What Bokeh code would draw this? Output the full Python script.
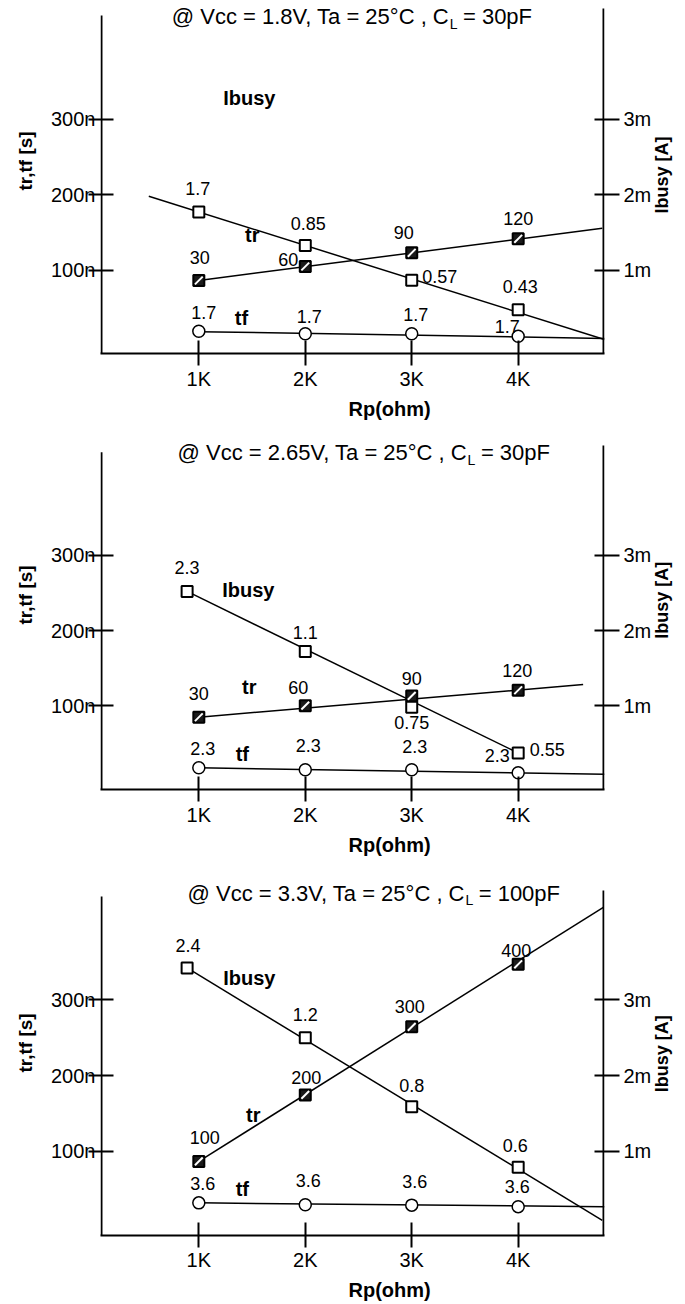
import math
from bokeh.plotting import figure
from bokeh.layouts import column
from bokeh.models import (Range1d, LinearAxis, FixedTicker, ColumnDataSource, LabelSet, Label, Title)
from bokeh.core.properties import value
from bokeh.embed import file_html
from bokeh.resources import INLINE

# ---------------- data ----------------
rp_k = [1, 2, 3, 4]
rp_tick_labels = ["1K", "2K", "3K", "4K"]
t_ticks = [100, 200, 300]
t_tick_labels = ["100n", "200n", "300n"]
i_ticks = [1, 2, 3]
i_tick_labels = ["1m", "2m", "3m"]

title_main = ["@ Vcc = 1.8V, Ta = 25°C , C",
              "@ Vcc = 2.65V, Ta = 25°C , C",
              "@ Vcc = 3.3V, Ta = 25°C , C"]
title_sub = ["L", "L", "L"]
title_rest = ["= 30pF", "= 30pF", "= 100pF"]

# panel 1 : Vcc = 1.8 V, CL = 30 pF
p1_ibusy_x = [1, 2, 3, 4]
p1_ibusy_mA = [1.77, 1.33, 0.87, 0.48]
p1_ibusy_text = ["1.7", "0.85", "0.57", "0.43"]
p1_ibusy_line_x = [0.53, 4.81]
p1_ibusy_line_mA = [1.98, 0.086]
p1_tr_ns = [86.6, 105.1, 123.2, 141.7]
p1_tr_text = ["30", "60", "90", "120"]
p1_tr_line_x = [1, 4.79]
p1_tr_line_ns = [86.6, 155.7]
p1_tf_ns = [19.6, 16.1, 16.1, 12.9]
p1_tf_text = ["1.7", "1.7", "1.7", "1.7"]
p1_tf_line_x = [1, 4.81]
p1_tf_line_ns = [19.0, 10.0]

# panel 2 : Vcc = 2.65 V, CL = 30 pF
p2_ibusy_x = [0.89, 2, 3, 4]
p2_ibusy_mA = [2.52, 1.72, 0.98, 0.37]
p2_ibusy_text = ["2.3", "1.1", "0.75", "0.55"]
p2_ibusy_line_x = [0.89, 4]
p2_ibusy_line_mA = [2.52, 0.37]
p2_tr_ns = [84.6, 100.0, 113.0, 120.5]
p2_tr_text = ["30", "60", "90", "120"]
p2_tr_line_x = [1, 4.61]
p2_tr_line_ns = [84.6, 128.0]
p2_tf_ns = [17.3, 14.6, 14.6, 10.6]
p2_tf_text = ["2.3", "2.3", "2.3", "2.3"]
p2_tf_line_x = [1, 4.81]
p2_tf_line_ns = [17.3, 8.8]

# panel 3 : Vcc = 3.3 V, CL = 100 pF
p3_ibusy_x = [0.89, 2, 3, 4]
p3_ibusy_mA = [3.42, 2.50, 1.59, 0.79]
p3_ibusy_text = ["2.4", "1.2", "0.8", "0.6"]
p3_ibusy_line_x = [0.89, 4.79]
p3_ibusy_line_mA = [3.42, 0.09]
p3_tr_ns = [86.7, 174.5, 264.3, 346.8]
p3_tr_text = ["100", "200", "300", "400"]
p3_tr_line_x = [1, 4.80]
p3_tr_line_ns = [86.7, 422.0]
p3_tf_ns = [32.0, 29.5, 29.0, 27.0]
p3_tf_text = ["3.6", "3.6", "3.6", "3.6"]
p3_tf_line_x = [1, 4.81]
p3_tf_line_ns = [32.0, 27.0]

# ---------------- layout / style ----------------
FONT = "Liberation Sans"
FIG_W = 685
FRAME_L, FRAME_R = 100, 608          # page px
XS = (FRAME_L - 91.8) / 107.3
XE = (FRAME_R - 91.8) / 107.3
PX_K = (FRAME_R - FRAME_L) / (XE - XS)

ARIAL = {' ': 278, '@': 1015, 'V': 667, 'c': 500, '=': 584, '1': 556, '.': 278, '8': 556,
         ',': 278, 'T': 611, 'a': 556, '2': 556, '5': 556, '°': 400, 'C': 722, 'L': 556,
         '3': 556, '0': 556, 'p': 556, 'F': 611, '6': 556}


def tw(s, fs):
    return sum(ARIAL.get(ch, 556) for ch in s) / 1000.0 * fs


def kx(px_page):
    return XS + (px_page - FRAME_L) / PX_K


panels = [
    dict(fig_top=0, frame_top=4, frame_bottom=353, fig_bottom=430, y0=345.5, s=0.7565,
         axis_top_l=15, axis_top_r=8, tick_sd=2, title_cx=352, title_cy=16,
         ylab_off=163, rlab_bottom=175,
         ibusy=(p1_ibusy_x, p1_ibusy_mA, p1_ibusy_text, p1_ibusy_line_x, p1_ibusy_line_mA),
         tr=(rp_k, p1_tr_ns, p1_tr_text, p1_tr_line_x, p1_tr_line_ns),
         tf=(rp_k, p1_tf_ns, p1_tf_text, p1_tf_line_x, p1_tf_line_ns),
         off_i=[(-1, 24), (3, 22), (28, 4), (2, 23)],
         off_r=[(1, 23), (-17, 7), (-8, 20), (0, 20)],
         off_f=[(5, 19), (4, 17), (4, 19), (-11, 10)],
         names=[(250, 97), (253, 234), (242, 317)]),
    dict(fig_top=430, frame_top=441, frame_bottom=789, fig_bottom=868, y0=780.3, s=0.7515,
         axis_top_l=451.7, axis_top_r=445, tick_sd=2, title_cx=364, title_cy=452,
         ylab_off=165, rlab_bottom=189,
         ibusy=(p2_ibusy_x, p2_ibusy_mA, p2_ibusy_text, p2_ibusy_line_x, p2_ibusy_line_mA),
         tr=(rp_k, p2_tr_ns, p2_tr_text, p2_tr_line_x, p2_tr_line_ns),
         tf=(rp_k, p2_tf_ns, p2_tf_text, p2_tf_line_x, p2_tf_line_ns),
         off_i=[(0, 24), (0, 19), (0, -15), (29, 3)],
         off_r=[(0, 24), (-7, 18), (0, 17), (-1, 20)],
         off_f=[(4, 19), (3, 24), (3, 23), (-21, 17)],
         names=[(249, 589), (250, 686), (243, 753)]),
    dict(fig_top=868, frame_top=882, frame_bottom=1236, fig_bottom=1304, y0=1227.6, s=0.76,
         axis_top_l=896, axis_top_r=890, tick_sd=1, title_cx=374, title_cy=893,
         ylab_off=163, rlab_bottom=178,
         ibusy=(p3_ibusy_x, p3_ibusy_mA, p3_ibusy_text, p3_ibusy_line_x, p3_ibusy_line_mA),
         tr=(rp_k, p3_tr_ns, p3_tr_text, p3_tr_line_x, p3_tr_line_ns),
         tf=(rp_k, p3_tf_ns, p3_tf_text, p3_tf_line_x, p3_tf_line_ns),
         off_i=[(1, 22), (0, 23), (0, 21), (-3, 22)],
         off_r=[(6, 24), (1, 17), (-2, 20), (-2, 14)],
         off_f=[(4, 19), (3, 24), (3, 24), (-1, 20)],
         names=[(250, 978), (254, 1115), (243, 1189)]),
]


def value_labels(p, xs, ys, texts, offs, range_name="default"):
    src = ColumnDataSource(dict(x=xs, y=ys, text=texts,
                                dx=[o[0] for o in offs], dy=[o[1] for o in offs]))
    ls = LabelSet(x="x", y="y", text="text", source=src, x_offset="dx", y_offset="dy",
                  text_align="center", text_baseline="middle",
                  text_font=value(FONT), text_font_size=value("18px"), text_color="black",
                  y_range_name=range_name)
    p.add_layout(ls)


def style_axis(ax):
    ax.axis_line_width = 2
    ax.axis_line_color = "black"
    ax.major_tick_line_width = 2
    ax.major_tick_line_color = "black"
    ax.minor_tick_line_color = None
    ax.major_label_text_font = FONT
    ax.major_label_text_font_size = "20px"
    ax.major_label_text_color = "black"


def make_panel(i, cfg):
    y0, s = cfg["y0"], cfg["s"]
    ns = lambda py: (y0 - py) / s           # page y -> left-axis value
    ys_, ye_ = ns(cfg["frame_bottom"]), ns(cfg["frame_top"])
    p = figure(width=FIG_W, height=cfg["fig_bottom"] - cfg["fig_top"],
               x_range=Range1d(XS, XE), y_range=Range1d(ys_, ye_),
               output_backend="svg", toolbar_location=None, title=None,
               min_border_left=FRAME_L, min_border_right=FIG_W - FRAME_R,
               min_border_top=cfg["frame_top"] - cfg["fig_top"],
               min_border_bottom=cfg["fig_bottom"] - cfg["frame_bottom"])
    p.extra_y_ranges = {"ibusy": Range1d(ys_ / 100.0, ye_ / 100.0)}
    p.outline_line_color = None
    p.xgrid.visible = False
    p.ygrid.visible = False
    p.background_fill_color = "white"
    p.border_fill_color = "white"

    xa = p.xaxis[0]
    xa.ticker = FixedTicker(ticks=rp_k)
    xa.major_label_overrides = {k: lab for k, lab in zip(rp_k, rp_tick_labels)}
    ya = p.yaxis[0]
    ya.ticker = FixedTicker(ticks=t_ticks)
    ya.major_label_overrides = {k: lab for k, lab in zip(t_ticks, t_tick_labels)}
    ra = LinearAxis(y_range_name="ibusy", ticker=FixedTicker(ticks=i_ticks))
    ra.major_label_overrides = {k: lab for k, lab in zip(i_ticks, i_tick_labels)}
    p.add_layout(ra, "right")

    for ax in (xa, ya, ra):
        style_axis(ax)
    xa.major_tick_in, xa.major_tick_out = 13, 12
    xa.major_label_standoff = cfg["tick_sd"]
    ya.major_tick_in, ya.major_tick_out = 13, 12
    ya.major_label_standoff = -7
    ra.major_tick_in, ra.major_tick_out = 10, 15
    ra.major_label_standoff = 4
    # vertical axis lines drawn with their own heights
    ya.axis_line_color = None
    ra.axis_line_color = None
    p.segment(x0=[XS + 1.0 / PX_K, XE - 1.0 / PX_K], y0=[ys_, ys_],
              x1=[XS + 1.0 / PX_K, XE - 1.0 / PX_K], y1=[ns(cfg["axis_top_l"]), ns(cfg["axis_top_r"])],
              line_color="black", line_width=2)

    # right-hand axis title, read bottom-to-top, placed through a one-tick outer axis
    rl = cfg["rlab_bottom"]
    ta = LinearAxis(ticker=FixedTicker(ticks=[rl]))
    ta.major_label_overrides = {rl: "Ibusy [A]"}
    ta.major_label_orientation = math.pi / 2
    ta.axis_line_color = None
    ta.major_tick_line_color = None
    ta.minor_tick_line_color = None
    ta.major_tick_in, ta.major_tick_out = 0, 0
    ta.major_label_standoff = 8
    ta.major_label_text_font = FONT
    ta.major_label_text_font_size = "18px"
    ta.major_label_text_font_style = "bold"
    ta.major_label_text_color = "black"
    p.add_layout(ta, "right")

    # left and bottom axis titles
    p.add_layout(Title(text="tr,tf [s]", align="left", offset=cfg["ylab_off"], standoff=25,
                       text_font=FONT, text_font_size="19px", text_font_style="bold",
                       text_color="black"), "left")
    p.add_layout(Title(text="Rp(ohm)", align="left", offset=248, standoff=7,
                       text_font=FONT, text_font_size="20px", text_font_style="bold",
                       text_color="black"), "below")

    # lines
    ix, iy, itext, ilx, ily = cfg["ibusy"]
    rx, ry, rtext, rlx, rly = cfg["tr"]
    fx, fy, ftext, flx, fly = cfg["tf"]
    p.line(ilx, ily, line_color="black", line_width=1.5, y_range_name="ibusy")
    p.line(rlx, rly, line_color="black", line_width=1.5)
    p.line(flx, fly, line_color="black", line_width=1.5)

    # markers
    p.scatter(fx, fy, marker="circle", size=12, fill_color="white", line_color="black", line_width=1.5)
    p.scatter(rx, ry, marker="square", size=11, fill_color="#1a1a1a", line_color="black", line_width=2)
    p.scatter(rx, ry, marker="dash", size=11, angle=math.pi / 4, line_color="white", line_width=2)
    p.scatter(ix, iy, marker="square", size=11, fill_color="white", line_color="black", line_width=2,
              y_range_name="ibusy")

    # value labels
    value_labels(p, ix, iy, itext, cfg["off_i"], "ibusy")
    value_labels(p, rx, ry, rtext, cfg["off_r"])
    value_labels(p, fx, fy, ftext, cfg["off_f"])

    # series names
    for (nx, ny), name in zip(cfg["names"], ["Ibusy", "tr", "tf"]):
        p.add_layout(Label(x=kx(nx), y=ns(ny), text=name, text_align="center", text_baseline="middle",
                           text_font=FONT, text_font_size="20px", text_font_style="bold",
                           text_color="black"))

    # panel title with subscript (inside the frame)
    fs, fs_sub = 22, 14
    w_main = tw(title_main[i], fs)
    w_sub = tw(title_sub[i], fs_sub)
    w_sp = tw(" ", fs)
    w_rest = tw(title_rest[i], fs)
    left = cfg["title_cx"] - (w_main + w_sub + w_sp + w_rest) / 2.0
    ty = ns(cfg["title_cy"])
    sub_x = left + w_main
    p.add_layout(Label(x=kx(sub_x), y=ty, text=title_main[i], text_align="right",
                       text_baseline="middle", text_font=FONT, text_font_size=f"{fs}px",
                       text_color="black"))
    p.add_layout(Label(x=kx(sub_x + 0.5), y=ns(cfg["title_cy"] + 7), text=title_sub[i],
                       text_align="left", text_baseline="middle", text_font=FONT,
                       text_font_size=f"{fs_sub}px", text_color="black"))
    p.add_layout(Label(x=kx(sub_x + w_sub + w_sp), y=ty, text=title_rest[i], text_align="left",
                       text_baseline="middle", text_font=FONT, text_font_size=f"{fs}px",
                       text_color="black"))
    return p


figs = [make_panel(i, cfg) for i, cfg in enumerate(panels)]
layout = column(*figs, spacing=0)
open("out.html", "w").write(file_html(layout, INLINE))
